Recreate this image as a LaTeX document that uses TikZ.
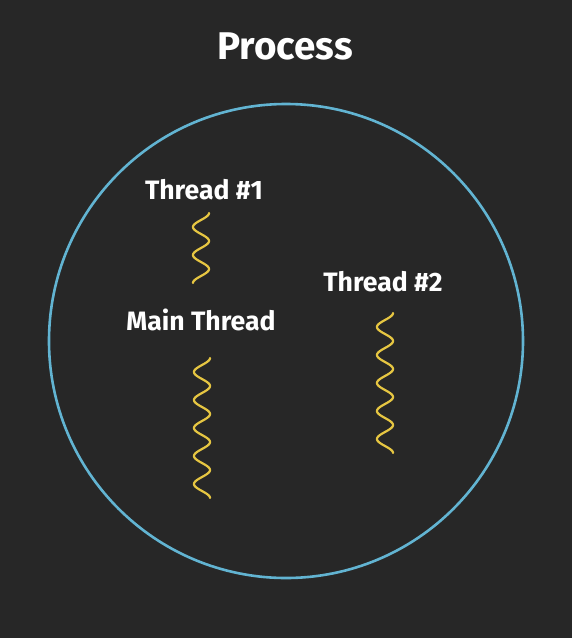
\documentclass[tikz,border=0pt]{standalone}
\usepackage{fontspec}
\setmainfont{Fira Sans}
\definecolor{bgdark}{HTML}{272727}
\definecolor{ringblue}{HTML}{62B4D2}
\definecolor{threadyellow}{HTML}{E6C642}
\tikzset{
  label/.style={text=white, font=\fontsize{26.6}{26.6}\selectfont\bfseries, inner sep=0pt},
  squiggle/.style={draw=threadyellow, line width=2.2pt, line cap=round}
}
\begin{document}
\begin{tikzpicture}[x=1pt,y=-1pt]
		\fill[bgdark] (0,0) rectangle (572,638);
		\useasboundingbox (0,0) rectangle (572,638);
		\node[label, font=\fontsize{38.6}{38.6}\selectfont\bfseries] (process) at (285,46) {Process};
		\draw[ringblue, line width=2.6pt] (286,341) circle (237);
		
		\node[label] (t1) at (204,190) {Thread \#1};
		\coordinate (t1top) at (201,213);
		\draw[squiggle, shift={(t1top)}] plot[domain=0:70, samples=100] ({8*cos(\x/28*360)}, \x);
		
		\node[label] (t2) at (383,282) {Thread \#2};
		\coordinate (t2top) at (385,313);
		\draw[squiggle, shift={(t2top)}] plot[domain=0:140, samples=200] ({8*cos(\x/28*360)}, \x);
		
		\node[label] (mt) at (201,320) {Main Thread};
		\coordinate (mttop) at (202,358);
		\draw[squiggle, shift={(mttop)}] plot[domain=0:140, samples=200] ({8*cos(\x/28*360)}, \x);
\end{tikzpicture}
\end{document}
